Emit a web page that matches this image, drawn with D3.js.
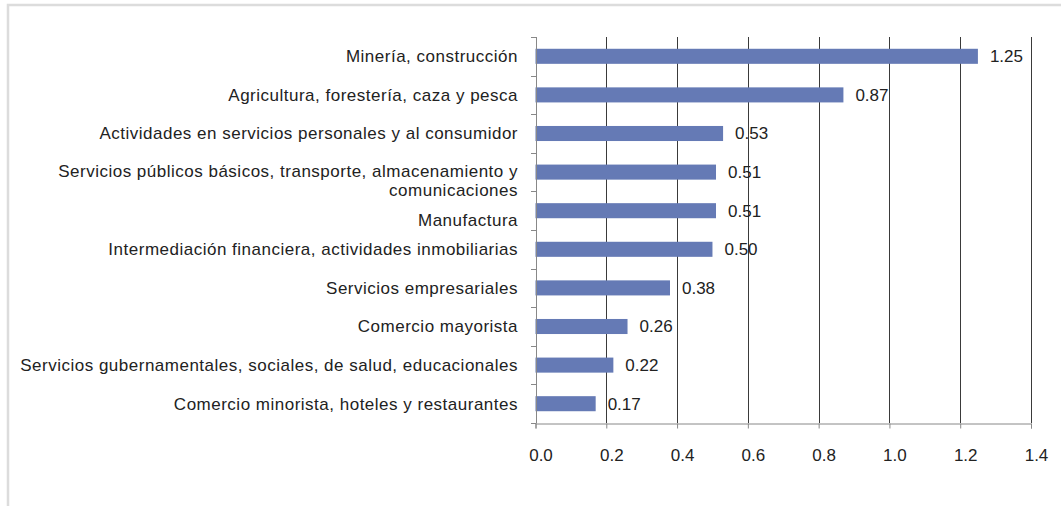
<!DOCTYPE html>
<html><head><meta charset="utf-8">
<script src="https://cdn.jsdelivr.net/npm/d3@7"></script>
<style>
body{margin:0;background:#fff;}
svg{display:block;font-family:"Liberation Sans",Arial,sans-serif;}
</style></head>
<body>
<svg id="chart" width="1061" height="506"></svg>
<script>
const categories = [
  "Minería, construcción",
  "Agricultura, forestería, caza y pesca",
  "Actividades en servicios personales y al consumidor",
  "Servicios públicos básicos, transporte, almacenamiento y comunicaciones",
  "Manufactura",
  "Intermediación financiera, actividades inmobiliarias",
  "Servicios empresariales",
  "Comercio mayorista",
  "Servicios gubernamentales, sociales, de salud, educacionales",
  "Comercio minorista, hoteles y restaurantes"
];
const values = [1.25, 0.87, 0.53, 0.51, 0.51, 0.50, 0.38, 0.26, 0.22, 0.17];
const xTicks = [0, 0.2, 0.4, 0.6, 0.8, 1.0, 1.2, 1.4];

const svg = d3.select("#chart");
// frame
svg.append("rect").attr("x", 8).attr("y", 5).attr("width", 1070).attr("height", 520)
  .attr("fill", "none").attr("stroke", "#dcdcdc").attr("stroke-width", 2.5);

const pLeft = 535.5, pRight = 1031, pTop = 37, pBottom = 423;
const x = d3.scaleLinear().domain([0, 1.4]).range([pLeft, pRight]);
const y = d3.scaleBand().domain(categories).range([pTop, pBottom]).paddingInner(0.61).paddingOuter(0.305);

// gridlines
svg.append("g").selectAll("line").data(xTicks.slice(1)).join("line")
  .attr("x1", d => Math.round(x(d)) + 0.5).attr("x2", d => Math.round(x(d)) + 0.5)
  .attr("y1", pTop).attr("y2", pBottom)
  .attr("stroke", "#3a3a3a").attr("stroke-width", 1);

// bars
svg.append("g").selectAll("rect").data(values).join("rect")
  .attr("x", x(0)).attr("y", (d, i) => y(categories[i]))
  .attr("width", d => x(d) - x(0)).attr("height", y.bandwidth())
  .attr("fill", "#657ab5");

// x axis
const xAxis = d3.axisBottom(x).tickValues(xTicks).tickFormat(d3.format(".1f")).tickSize(5).tickPadding(20);
const gx = svg.append("g").attr("transform", `translate(0,${pBottom + 0.5})`).call(xAxis);
gx.select(".domain").attr("stroke", "#888");
gx.selectAll(".tick line").attr("stroke", "#888");
gx.selectAll("text").attr("font-size", 17).attr("fill", "#222").attr("dx", 5)
  .attr("font-family", "Liberation Sans, Arial, sans-serif");

// y axis ticks at band boundaries
const yb = d3.scaleLinear().domain([0, categories.length]).range([pTop, pBottom]);
svg.append("line").attr("x1", Math.round(pLeft) + 0.5).attr("x2", Math.round(pLeft) + 0.5)
  .attr("y1", pTop).attr("y2", pBottom).attr("stroke", "#888");
svg.append("g").selectAll("line").data(d3.range(categories.length + 1)).join("line")
  .attr("x1", Math.round(pLeft) - 5).attr("x2", Math.round(pLeft) + 0.5)
  .attr("y1", d => Math.round(yb(d)) + 0.5).attr("y2", d => Math.round(yb(d)) + 0.5)
  .attr("stroke", "#888");

// category labels (wrapped)
const labelG = svg.append("g").attr("font-size", 17).attr("letter-spacing", "0.5px")
  .attr("fill", "#222").attr("text-anchor", "end");
let shift = 0;
categories.forEach((c, i) => {
  const cy = y(c) + y.bandwidth() / 2;
  const t = labelG.append("text").attr("x", 518);
  const words = c.split(" ");
  let lines = [], cur = [];
  const probe = labelG.append("text");
  words.forEach(w => {
    const test = cur.concat([w]).join(" ");
    probe.text(test);
    if (probe.node().getComputedTextLength() > 512 && cur.length) { lines.push(cur.join(" ")); cur = [w]; }
    else cur.push(w);
  });
  lines.push(cur.join(" "));
  probe.remove();
  const lh = 19;
  const extra = lines.length > 1 ? 8 : shift;
  shift = lines.length > 1 ? 9 : 0;
  const y0 = cy + extra - (lines.length - 1) * lh / 2;
  lines.forEach((l, k) => t.append("tspan").attr("x", 518).attr("y", y0 + k * lh).attr("dy", "0.35em").text(l));
});

// value labels
svg.append("g").selectAll("text").data(values).join("text")
  .attr("x", d => x(d) + 12).attr("y", (d, i) => y(categories[i]) + y.bandwidth() / 2)
  .attr("dy", "0.35em").attr("font-size", 17).attr("fill", "#222")
  .text(d => d.toFixed(2));
</script>
</body></html>
